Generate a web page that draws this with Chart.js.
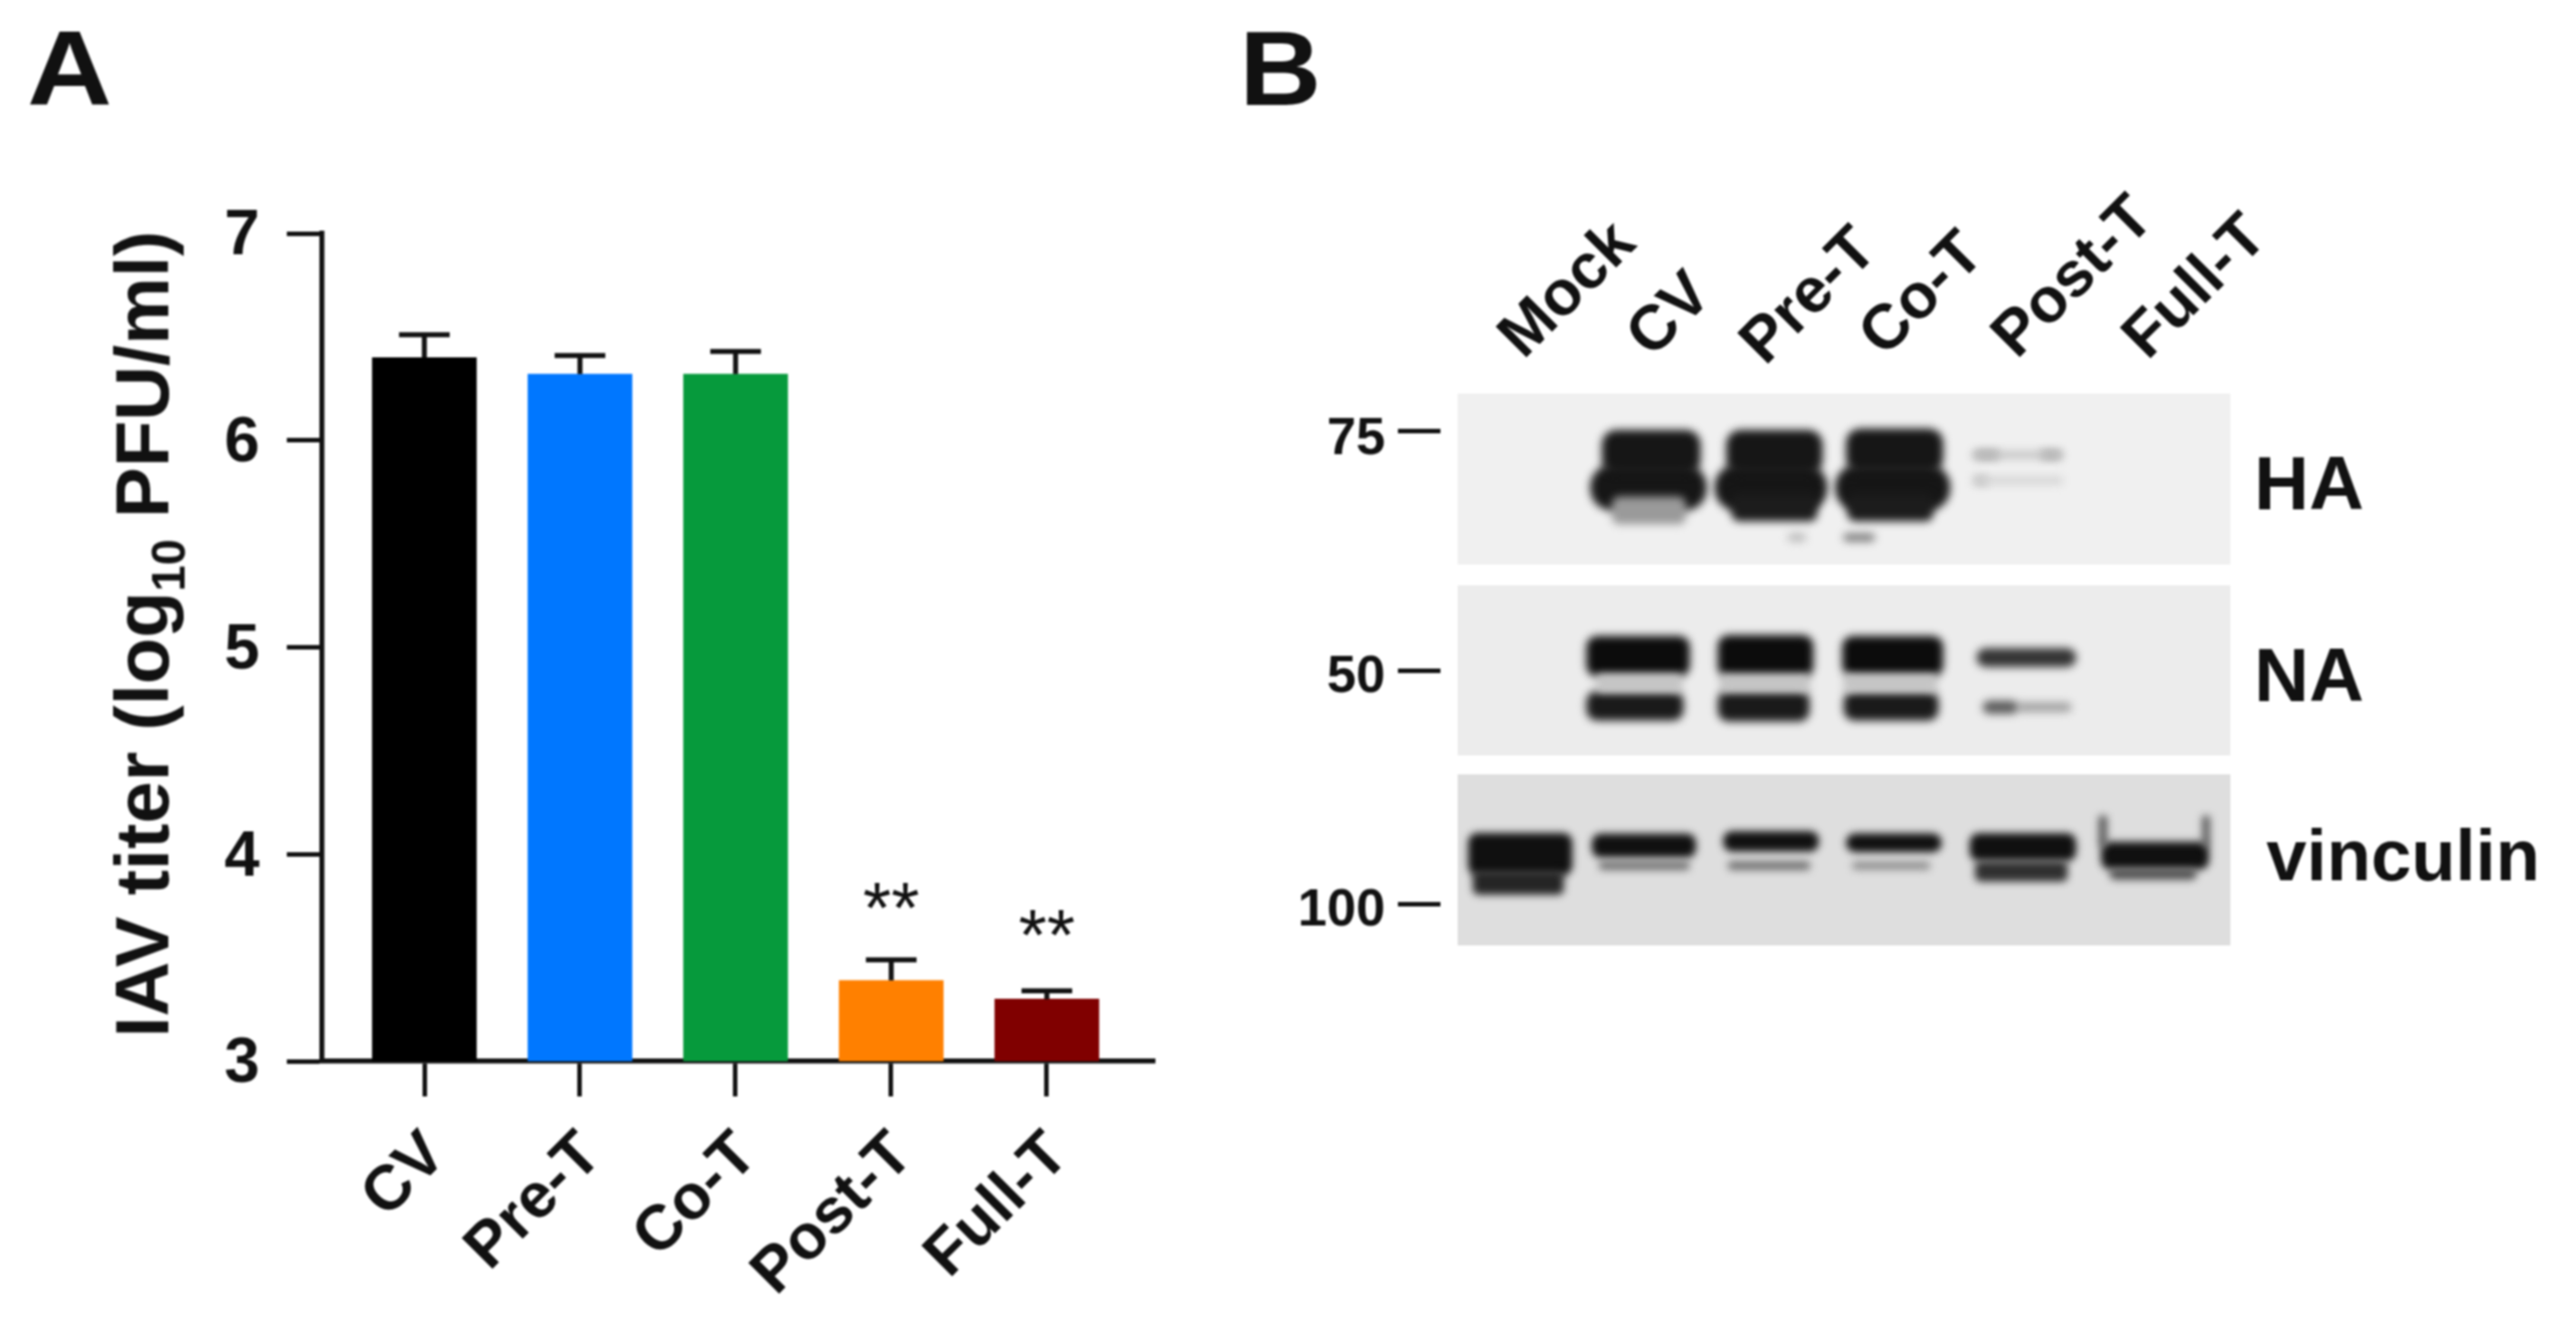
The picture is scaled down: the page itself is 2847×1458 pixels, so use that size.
<!DOCTYPE html>
<html>
<head>
<meta charset="utf-8">
<title>IAV titer and western blot</title>
<script src="https://cdn.jsdelivr.net/npm/chart.js@4"></script>
<style>
  html, body { margin: 0; background: #fff; }
  #page { position: relative; width: 2847px; height: 1458px; overflow: hidden; font-family: "Liberation Sans", Arial, sans-serif; color: #111; filter: blur(0.8px); }
  canvas { position: absolute; }
  .txt { position: absolute; font-weight: bold; white-space: nowrap; line-height: 1; transform: translate(-50%, -50%); }
  .lane { font-size: 70px; transform: translate(-50%, -50%) rotate(-45deg); }
  .mw { font-size: 58px; transform: translate(-100%, -50%); }
  .dash { position: absolute; left: 1545px; width: 47px; height: 5px; background: #111; }
  sub { font-size: 0.62em; line-height: 0; }
</style>
</head>
<body>
<div id="page">
  <canvas id="titerChart" width="1330" height="1458" style="left:0;top:0"></canvas>
  <canvas id="haBlot" width="854" height="189" style="left:1611px;top:435px"></canvas>
  <canvas id="naBlot" width="854" height="188" style="left:1611px;top:647px"></canvas>
  <canvas id="vinBlot" width="854" height="189" style="left:1611px;top:856px"></canvas>

  <div class="txt" style="left:77px;top:76px;font-size:116px;transform:translate(-50%,-50%) scaleX(1.12)">A</div>
  <div class="txt" style="left:1415px;top:76px;font-size:116px;transform:translate(-50%,-50%) scaleX(1.08)">B</div>
  <div class="txt" style="left:157px;top:701px;font-size:84px;transform:translate(-50%,-50%) rotate(-90deg)">IAV titer (log<sub>10</sub> PFU/ml)</div>

  <div class="txt lane" style="left:1730px;top:318px">Mock</div>
  <div class="txt lane" style="left:1843px;top:346px">CV</div>
  <div class="txt lane" style="left:1997px;top:325px">Pre-T</div>
  <div class="txt lane" style="left:2122px;top:323px">Co-T</div>
  <div class="txt lane" style="left:2289px;top:304px">Post-T</div>
  <div class="txt lane" style="left:2424px;top:315px">Full-T</div>

  <div class="txt mw" style="left:1531px;top:482px">75</div>
  <div class="txt mw" style="left:1531px;top:745px">50</div>
  <div class="txt mw" style="left:1531px;top:1003px">100</div>
  <div class="dash" style="top:474px"></div>
  <div class="dash" style="top:739px"></div>
  <div class="dash" style="top:997px"></div>

  <div class="txt" style="left:2552px;top:534px;font-size:84px">HA</div>
  <div class="txt" style="left:2552px;top:746px;font-size:84px">NA</div>
  <div class="txt" style="left:2656px;top:946px;font-size:80px">vinculin</div>
</div>

<script>
// panel A values
const categories = ["CV", "Pre-T", "Co-T", "Post-T", "Full-T"];
const titerMeans = [6.40, 6.32, 6.32, 3.39, 3.30];
const titerErrTops = [6.51, 6.41, 6.43, 3.49, 3.34];
const barColors = ["#000000", "#0077ff", "#069a3c", "#ff8000", "#800000"];
const yTicks = [3, 4, 5, 6, 7];
const starText = ["", "", "", "**", "**"];
const starLevels = [null, null, null, 3.79, 3.66];

// panel B bands: x range in % of gel width, position in % of gel height
const haUpperRange = [[18.7, 31.4], [34.8, 47.2], [50.3, 62.8]];
const haUpperPos = [31, 31, 30];
const haLowerRange = [[17.2, 32.2], [33.3, 47.8], [48.9, 63.7]];
const haLowerPos = [56, 56, 56];
const haTailRange = [[20, 29.5], [35.5, 46.5], [50.5, 61.5]];
const haTailPos = [72, 70, 70];
const haTailShade = ["#9a9a9a", "#1c1c1c", "#1c1c1c"];
const haFaintRange = [[66.7, 78.3], [66.7, 78.3], [67, 70], [75.5, 78], [67, 68.5], [42.8, 45], [50, 53.9]];
const haFaintPos = [33, 51, 33, 33, 51, 91, 91];
const haFaintShade = ["#c4c4c4", "#d4d4d4", "#8a8a8a", "#8a8a8a", "#a8a8a8", "#b8b8b8", "#777777"];

const naUpperRange = [[16.7, 30], [33.7, 46], [49.8, 62.8], [67.2, 80]];
const naUpperPos = [40, 40, 40, 41];
const naUpperThick = [44, 46, 44, 20];
const naUpperShade = ["#0c0c0c", "#0c0c0c", "#0c0c0c", "#333333"];
const naLowerRange = [[16.7, 29.2], [33.7, 45.5], [50, 62.2], [68, 72.5], [72.5, 79.4]];
const naLowerPos = [75, 75, 75, 76, 76];
const naLowerThick = [32, 34, 32, 14, 10];
const naLowerShade = ["#1a1a1a", "#1a1a1a", "#1a1a1a", "#5a5a5a", "#a0a0a0"];
const naHazeRange = [[18, 29], [34, 45.5], [50, 62]];
const naHazePos = [59, 59, 59];

const vinUpperRange = [[1.4, 14.8], [17.4, 30.8], [34.4, 46.7], [50.3, 62.6], [66.3, 80], [83.3, 97.2]];
const vinUpperPos = [46, 40, 37, 38, 41, 47];
const vinUpperThick = [46, 26, 22, 20, 30, 30];
const vinLowerRange = [[2, 13.7], [18.3, 30], [35, 45.6], [51.1, 61.1], [67, 78.9], [84.4, 95.6]];
const vinLowerPos = [66, 54, 54, 54, 58, 60];
const vinLowerThick = [26, 9, 9, 8, 22, 12];
const vinLowerShade = ["#252525", "#707070", "#707070", "#8c8c8c", "#303030", "#505050"];
const vinFlareRange = [[83, 84], [96.4, 97.3]];
const vinFlarePos = [30, 30];

const inkColor = "#111111";

const errorBarPlugin = {
  id: "errorBars",
  afterDatasetsDraw(chart) {
    const { ctx, scales } = chart;
    ctx.save();
    ctx.strokeStyle = inkColor;
    ctx.lineWidth = 5.5;
    titerErrTops.forEach((top, i) => {
      const x = scales.x.getPixelForValue(i);
      const y0 = scales.y.getPixelForValue(titerMeans[i]);
      const y1 = scales.y.getPixelForValue(top);
      ctx.beginPath();
      ctx.moveTo(x, y0);
      ctx.lineTo(x, y1);
      ctx.moveTo(x - 28, y1);
      ctx.lineTo(x + 28, y1);
      ctx.stroke();
    });
    ctx.fillStyle = inkColor;
    ctx.font = '80px "Liberation Sans"';
    ctx.textAlign = "center";
    ctx.textBaseline = "middle";
    starText.forEach((s, i) => {
      if (!s) return;
      ctx.fillText(s, scales.x.getPixelForValue(i), scales.y.getPixelForValue(starLevels[i]) + 17);
    });
    ctx.restore();
  },
};

new Chart(document.getElementById("titerChart"), {
  type: "bar",
  data: {
    datasets: [{
      data: titerMeans.map((v, i) => ({ x: i, y: v })),
      backgroundColor: barColors,
      barThickness: 115,
    }],
  },
  options: {
    responsive: false,
    animation: false,
    layout: { padding: { top: 258, right: 54, bottom: 0, left: 0 } },
    plugins: { legend: { display: false }, tooltip: { enabled: false } },
    scales: {
      x: {
        type: "linear",
        offset: false,
        min: -0.657,
        max: 4.692,
        afterFit: (s) => { s.height = 285; },
        border: { color: inkColor, width: 5.5 },
        grid: { offset: false, drawOnChartArea: false, tickLength: 39, tickWidth: 5, tickColor: inkColor },
        ticks: {
          stepSize: 1,
          includeBounds: false,
          autoSkip: false,
          minRotation: 45,
          maxRotation: 45,
          padding: 24,
          labelOffset: 13,
          color: inkColor,
          font: { family: "Liberation Sans", size: 70, weight: "bold" },
          callback: (v) => categories[v],
        },
      },
      y: {
        min: yTicks[0],
        max: yTicks[yTicks.length - 1],
        afterFit: (s) => { s.width = 356; },
        border: { color: inkColor, width: 5.5 },
        grid: { drawOnChartArea: false, tickLength: 39, tickWidth: 5, tickColor: inkColor },
        ticks: {
          stepSize: 1,
          padding: 30,
          labelOffset: 4,
          color: inkColor,
          font: { family: "Liberation Sans", size: 70, weight: "bold" },
        },
      },
    },
  },
  plugins: [errorBarPlugin],
});

// every band is one floating horizontal bar on the gel's x/y scales
function bands(range, pos, thick, shade, radius) {
  return range.map((r, i) => ({
    data: [{ x: r, y: pos[i] }],
    barThickness: Array.isArray(thick) ? thick[i] : thick,
    backgroundColor: Array.isArray(shade) ? shade[i] : shade,
    borderRadius: radius,
    borderSkipped: false,
  }));
}

function drawBlot(id, background, datasets, blur) {
  const gelPlugin = {
    id: "gel",
    beforeDatasetsDraw(chart) {
      const { ctx, chartArea: a } = chart;
      ctx.save();
      ctx.fillStyle = background;
      ctx.fillRect(a.left, a.top, a.right - a.left, a.bottom - a.top);
      ctx.filter = `blur(${blur}px)`;
    },
    afterDatasetsDraw(chart) {
      chart.ctx.restore();
    },
  };
  new Chart(document.getElementById(id), {
    type: "bar",
    data: { datasets },
    options: {
      indexAxis: "y",
      responsive: false,
      animation: false,
      grouped: false,
      layout: { padding: 0 },
      plugins: { legend: { display: false }, tooltip: { enabled: false } },
      scales: {
        x: { type: "linear", min: 0, max: 100, display: false },
        y: { type: "linear", min: 0, max: 100, reverse: true, display: false },
      },
    },
    plugins: [gelPlugin],
  });
}

drawBlot("haBlot", "#f0f0f0", [
  ...bands(haFaintRange, haFaintPos, 8, haFaintShade, 3),
  ...bands(haTailRange, haTailPos, 30, haTailShade, 8),
  ...bands(haUpperRange, haUpperPos, 48, "#161616", 16),
  ...bands(haLowerRange, haLowerPos, 50, "#161616", 24),
], 5);

drawBlot("naBlot", "#ececec", [
  ...bands(naHazeRange, naHazePos, 20, "#c4c4c4", 4),
  ...bands(naUpperRange, naUpperPos, naUpperThick, naUpperShade, 12),
  ...bands(naLowerRange, naLowerPos, naLowerThick, naLowerShade, 12),
], 5);

drawBlot("vinBlot", "#dedede", [
  ...bands(vinFlareRange, vinFlarePos, 34, "#555555", 2),
  ...bands(vinLowerRange, vinLowerPos, vinLowerThick, vinLowerShade, 6),
  ...bands(vinUpperRange, vinUpperPos, vinUpperThick, "#101010", 10),
], 4);
</script>
</body>
</html>
